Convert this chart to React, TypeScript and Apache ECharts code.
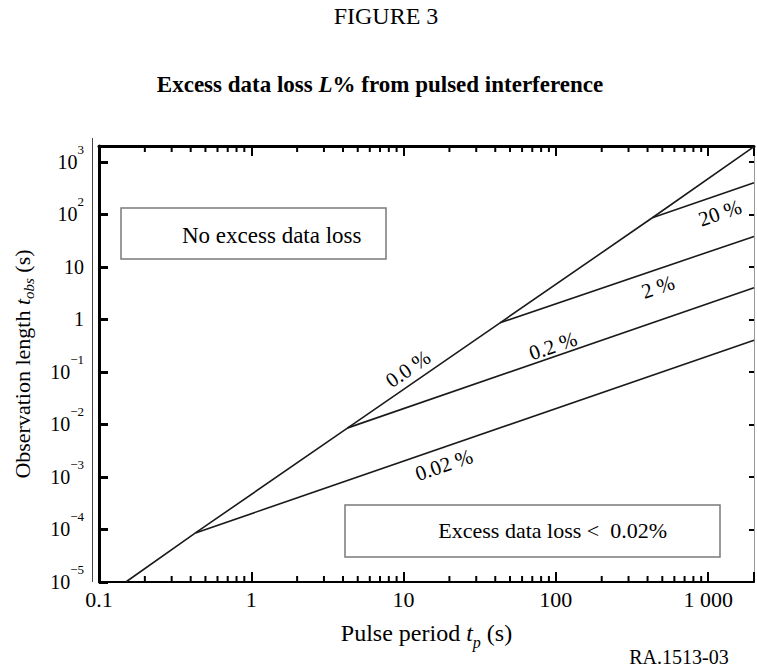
import React, { useEffect, useRef } from 'react';
import * as echarts from 'echarts';

const FONT = "'Liberation Serif', 'Times New Roman', serif";

// Axis ranges
const xMin = 0.1;
const xMax = 2000;
const yMin = 1e-5;
const yMax = 2000;

// Minor tick values on the pulse-period axis
const xMinorTicks = [
  0.2, 0.3, 0.4, 0.5, 0.6, 0.7, 0.8, 0.9,
  2, 3, 4, 5, 6, 7, 8, 9,
  20, 30, 40, 50, 60, 70, 80, 90,
  200, 300, 400, 500, 600, 700, 800, 900,
];

// 0.0 % envelope (slope 2)
const envelopeTp = [0.15, 0.43, 4.3, 43, 430, 2000];
const envelopeTobs = [1e-5, 8.6e-5, 8.6e-3, 0.86, 86, 1950];

// Excess loss lines (slope 1)
const lossNames = ['0.02 %', '0.2 %', '2 %', '20 %'];
const lossStartTp = [0.43, 4.3, 43, 430];
const lossStartTobs = [8.6e-5, 8.6e-3, 0.86, 86];
const lossEndTp = [2000, 2000, 2000, 2000];
const lossEndTobs = [0.4, 4, 38, 400];

const LINE_COLOR = '#1a1a1a';

function xLabel(v: number): string {
  const l = Math.log10(v);
  const e = Math.round(l);
  if (Math.abs(l - e) > 1e-6) return '';
  const map: Record<string, string> = { '-1': '0.1', '0': '1', '1': '10', '2': '100', '3': '1 000' };
  return map[String(e)] ?? '';
}

function yLabel(v: number): string {
  const l = Math.log10(v);
  const e = Math.round(l);
  if (Math.abs(l - e) > 1e-6) return '';
  if (e === 0) return '1';
  if (e === 1) return '10';
  return '10{sup|' + (e < 0 ? '\u2212' + -e : String(e)) + '}';
}

export default function App() {
  const ref = useRef<HTMLDivElement>(null);
  useEffect(() => {
    const chart = echarts.init(ref.current!, null, { renderer: 'svg' });

    const lineSeries: any[] = [
      {
        name: '0.0 %',
        type: 'line',
        xAxisIndex: 0,
        yAxisIndex: 0,
        data: envelopeTp.map((t, i) => [t, envelopeTobs[i]]),
        symbol: 'none',
        lineStyle: { color: LINE_COLOR, width: 1.6 },
        silent: true,
      },
      ...lossNames.map((n, i) => ({
        name: n,
        type: 'line',
        xAxisIndex: 0,
        yAxisIndex: 0,
        data: [
          [lossStartTp[i], lossStartTobs[i]],
          [lossEndTp[i], lossEndTobs[i]],
        ],
        symbol: 'none',
        lineStyle: { color: LINE_COLOR, width: 1.6 },
        silent: true,
      })),
    ];

    const minorSeries = {
      type: 'custom',
      xAxisIndex: 0,
      yAxisIndex: 0,
      silent: true,
      clip: false,
      data: xMinorTicks.map((v) => [v, 1]),
      renderItem: (params: any, api: any) => {
        const x = api.coord([api.value(0), 1])[0];
        const cs = params.coordSys;
        const bottom = cs.y + cs.height;
        const top = cs.y;
        return {
          type: 'group',
          children: [
            { type: 'line', shape: { x1: x, y1: bottom, x2: x, y2: bottom - 6 }, style: { stroke: '#000', lineWidth: 2 } },
            { type: 'line', shape: { x1: x, y1: top, x2: x, y2: top + 6 }, style: { stroke: '#000', lineWidth: 2 } },
          ],
        };
      },
    };

    const lblStyle = (text: string) => ({
      text,
      fontFamily: FONT,
      fontSize: 21,
      fill: '#000',
      align: 'center',
      verticalAlign: 'middle',
    });

    const option: any = {
      animation: false,
      backgroundColor: '#fff',
      textStyle: { fontFamily: FONT },
      grid: { left: 97, top: 146, width: 659, height: 436, containLabel: false },
      xAxis: [
        {
          type: 'log',
          logBase: 10,
          min: xMin,
          max: xMax,
          position: 'bottom',
          name: 'Pulse period {i|t}{sub|p} (s)',
          nameLocation: 'middle',
          nameGap: 30,
          nameTextStyle: {
            fontFamily: FONT,
            fontSize: 24,
            color: '#000',
            lineHeight: 36,
            rich: {
              i: { fontFamily: FONT, fontSize: 24, fontStyle: 'italic', color: '#000', lineHeight: 36 },
              sub: { fontFamily: FONT, fontSize: 16, fontStyle: 'italic', color: '#000', verticalAlign: 'bottom', lineHeight: 20 },
            },
          },
          axisLine: { show: true, onZero: false, lineStyle: { color: '#000', width: 2 } },
          axisTick: { show: true, inside: true, length: 10, lineStyle: { color: '#000', width: 2 } },
          minorTick: { show: false },
          splitLine: { show: false },
          axisLabel: {
            formatter: xLabel,
            fontFamily: FONT,
            fontSize: 22,
            color: '#000',
            margin: 6,
          },
        },
        {
          type: 'log',
          logBase: 10,
          min: xMin,
          max: xMax,
          position: 'top',
          axisLine: { show: true, onZero: false, lineStyle: { color: '#000', width: 3 } },
          axisTick: { show: true, inside: true, length: 10, lineStyle: { color: '#000', width: 2 } },
          axisLabel: { show: false },
          splitLine: { show: false },
        },
      ],
      yAxis: [
        {
          type: 'log',
          logBase: 10,
          min: yMin,
          max: yMax,
          position: 'left',
          name: 'Observation length {i|t}{sub|obs} (s)',
          nameLocation: 'middle',
          nameRotate: 90,
          nameGap: 63,
          nameTextStyle: {
            fontFamily: FONT,
            fontSize: 22,
            color: '#000',
            lineHeight: 28,
            rich: {
              i: { fontFamily: FONT, fontSize: 22, fontStyle: 'italic', color: '#000', lineHeight: 28 },
              sub: { fontFamily: FONT, fontSize: 15, fontStyle: 'italic', color: '#000', verticalAlign: 'bottom', lineHeight: 18 },
            },
          },
          axisLine: { show: true, onZero: false, lineStyle: { color: '#000', width: 3 } },
          axisTick: { show: true, inside: true, length: 9, lineStyle: { color: '#000', width: 3 } },
          splitLine: { show: false },
          axisLabel: {
            formatter: yLabel,
            fontFamily: FONT,
            fontSize: 20,
            color: '#000',
            margin: 15,
            lineHeight: 38,
            rich: {
              sup: { fontFamily: FONT, fontSize: 13, color: '#000', verticalAlign: 'top', lineHeight: 14 },
            },
          },
        },
        {
          type: 'log',
          logBase: 10,
          min: yMin,
          max: yMax,
          position: 'right',
          axisLine: { show: true, onZero: false, lineStyle: { color: '#999', width: 1 } },
          axisTick: { show: true, inside: true, length: 5, lineStyle: { color: '#000', width: 2 } },
          axisLabel: { show: false },
          splitLine: { show: false },
        },
      ],
      series: [...lineSeries, minorSeries],
      graphic: [
        {
          type: 'text',
          x: 386,
          y: 16,
          style: { text: 'FIGURE 3', fontFamily: FONT, fontSize: 24, fill: '#000', align: 'center', verticalAlign: 'middle' },
        },
        {
          type: 'text',
          x: 380,
          y: 84,
          style: {
            text: 'Excess data loss {i|L}% from pulsed interference',
            fontFamily: FONT,
            fontSize: 23,
            fontWeight: 'bold',
            fill: '#000',
            align: 'center',
            verticalAlign: 'middle',
            rich: {
              i: { fontFamily: FONT, fontSize: 23, fontWeight: 'bold', fontStyle: 'italic', fill: '#000' },
            },
          },
        },
        {
          type: 'line',
          shape: { x1: 92.5, y1: 138, x2: 92.5, y2: 582 },
          style: { stroke: '#444', lineWidth: 1 },
        },
        {
          type: 'rect',
          shape: { x: 121, y: 208, width: 265, height: 51 },
          style: { fill: '#fff', stroke: '#7a7a7a', lineWidth: 1.5 },
        },
        {
          type: 'text',
          x: 182,
          y: 235,
          style: { text: 'No excess data loss', fontFamily: FONT, fontSize: 23, fill: '#000', align: 'left', verticalAlign: 'middle' },
        },
        {
          type: 'rect',
          shape: { x: 345, y: 505, width: 375, height: 52 },
          style: { fill: '#fff', stroke: '#7a7a7a', lineWidth: 1.5 },
        },
        {
          type: 'text',
          x: 667,
          y: 530,
          style: { text: 'Excess data loss <  0.02%', fontFamily: FONT, fontSize: 22, fill: '#000', align: 'right', verticalAlign: 'middle' },
        },
        { type: 'text', x: 408, y: 369, rotation: 0.6, style: lblStyle('0.0 %') },
        { type: 'text', x: 444, y: 465, rotation: 0.33, style: lblStyle(lossNames[0]) },
        { type: 'text', x: 553, y: 346, rotation: 0.33, style: lblStyle(lossNames[1]) },
        { type: 'text', x: 658, y: 287, rotation: 0.33, style: lblStyle(lossNames[2]) },
        { type: 'text', x: 720, y: 213, rotation: 0.33, style: lblStyle(lossNames[3]) },
        {
          type: 'text',
          x: 679,
          y: 657,
          style: { text: 'RA.1513-03', fontFamily: FONT, fontSize: 20, fill: '#000', align: 'center', verticalAlign: 'middle' },
        },
      ],
    };

    chart.setOption(option);
    return () => chart.dispose();
  }, []);

  return (
    <div
      ref={ref}
      style={{ position: 'fixed', left: 0, top: 0, width: 757, height: 669, background: '#fff' }}
    />
  );
}
